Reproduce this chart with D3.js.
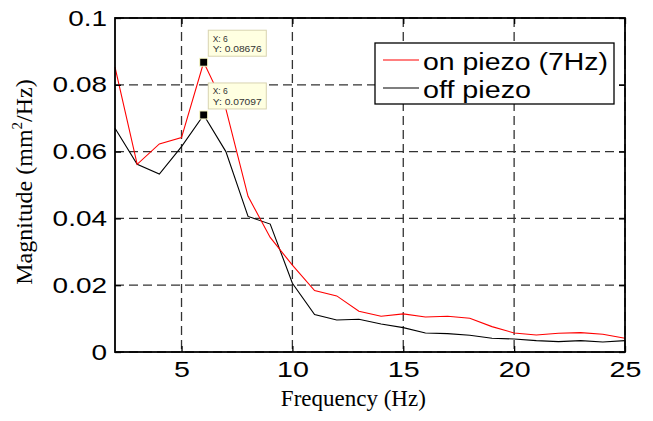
<!DOCTYPE html>
<html>
<head>
<meta charset="utf-8">
<script src="https://cdn.jsdelivr.net/npm/d3@7"></script>
<style>
  html, body { margin: 0; padding: 0; background: #fff; }
  svg { display: block; }
</style>
</head>
<body>
<svg id="chart" width="653" height="421"></svg>
<script>
// ---- data ----
const freqs = d3.range(2, 26); // 2..25 Hz
const onPiezo = [0.0853, 0.0562, 0.0623, 0.0642, 0.08676, 0.0728, 0.0466, 0.0343, 0.0260, 0.0184,
                 0.0168, 0.0122, 0.0107, 0.0114, 0.0105, 0.0107, 0.0101, 0.0076, 0.0057, 0.0051,
                 0.0056, 0.0058, 0.0053, 0.0041];
const offPiezo = [0.0670, 0.0562, 0.0533, 0.0615, 0.07097, 0.0600, 0.0406, 0.0383, 0.0206, 0.0112,
                  0.0096, 0.0098, 0.0084, 0.0073, 0.0057, 0.0055, 0.0050, 0.0041, 0.0039, 0.0034,
                  0.0031, 0.0034, 0.0030, 0.0034];
const xTicks = [5, 10, 15, 20, 25];
const yTicks = [0, 0.02, 0.04, 0.06, 0.08, 0.1];
const seriesNames = ["on piezo (7Hz)", "off piezo"];
const seriesColors = ["#ff0000", "#000000"];
const tipX = [6, 6];
const tipY = [0.08676, 0.07097];

// ---- layout ----
const svg = d3.select("#chart");
const L = 115, R = 625, T = 18, B = 352;
const x = d3.scaleLinear().domain([2, 25]).range([L, R]);
const y = d3.scaleLinear().domain([0, 0.1]).range([B, T]);

// grid
const grid = svg.append("g");
grid.selectAll("line.gx").data(xTicks).join("line")
  .attr("x1", d => x(d)).attr("x2", d => x(d)).attr("y1", T).attr("y2", B)
  .attr("stroke", "#333").attr("stroke-width", 1.3).attr("stroke-dasharray", "9,5");
grid.selectAll("line.gy").data(yTicks).join("line")
  .attr("y1", d => y(d)).attr("y2", d => y(d)).attr("x1", L).attr("x2", R)
  .attr("stroke", "#333").attr("stroke-width", 1.3).attr("stroke-dasharray", "9,5");

// series lines
const series = [onPiezo, offPiezo];
const line = d3.line().x((d, i) => x(freqs[i])).y(d => y(d));
// draw black first, red on top? In reference red over black near crossing; draw off first.
[1, 0].forEach(k => {
  svg.append("path").datum(series[k])
    .attr("d", line).attr("fill", "none")
    .attr("stroke", seriesColors[k]).attr("stroke-width", 1.1)
    .attr("stroke-linejoin", "miter");
});

// axes (inward ticks, box)
const fmt = d => d === 0 ? "0" : String(+d.toFixed(2));
const axB = svg.append("g").attr("transform", `translate(0,${B})`)
  .call(d3.axisBottom(x).tickValues(xTicks).tickSize(-6).tickPadding(10).tickFormat(d3.format("d")));
const axL = svg.append("g").attr("transform", `translate(${L},0)`)
  .call(d3.axisLeft(y).tickValues(yTicks).tickSize(-6).tickPadding(9).tickFormat(fmt));
const axT = svg.append("g").attr("transform", `translate(0,${T})`)
  .call(d3.axisTop(x).tickValues(xTicks).tickSize(-6).tickFormat(""));
const axR = svg.append("g").attr("transform", `translate(${R},0)`)
  .call(d3.axisRight(y).tickValues(yTicks).tickSize(-6).tickFormat(""));
[axB, axL, axT, axR].forEach(g => {
  g.select(".domain").remove();
  g.selectAll(".tick line").attr("stroke", "#000").attr("stroke-width", 1.3);
});
[axB, axL].forEach(g => {
  g.selectAll(".tick text")
    .attr("font-family", "'Liberation Sans', Arial, sans-serif")
    .attr("font-size", 22).attr("fill", "#000");
});
axB.selectAll(".tick text").attr("dy", "0.71em").attr("y", 9)
  .each(function () {
    const w = this.getComputedTextLength();
    d3.select(this).attr("textLength", w * 1.3).attr("lengthAdjust", "spacingAndGlyphs");
  });
axL.selectAll(".tick text").attr("x", -8)
  .each(function () {
    const w = this.getComputedTextLength();
    d3.select(this).attr("textLength", w * 1.27).attr("lengthAdjust", "spacingAndGlyphs");
  });

// box
svg.append("rect").attr("x", L).attr("y", T).attr("width", R - L).attr("height", B - T)
  .attr("fill", "none").attr("stroke", "#000").attr("stroke-width", 1.8);

// axis labels
svg.append("text")
  .attr("x", (281.7 + 425) / 2).attr("y", 406)
  .attr("text-anchor", "middle")
  .attr("font-family", "'Liberation Serif', 'Times New Roman', serif")
  .attr("font-size", 23).attr("fill", "#000")
  .text("Frequency (Hz)");

const yl = svg.append("text")
  .attr("transform", `translate(32,182) rotate(-90)`)
  .attr("text-anchor", "middle")
  .attr("font-family", "'Liberation Serif', 'Times New Roman', serif")
  .attr("font-size", 24).attr("fill", "#000");
yl.append("tspan").text("Magnitude (mm");
yl.append("tspan").attr("font-size", 15).attr("dy", -10).text("2");
yl.append("tspan").attr("dy", 10).text("/Hz)");

// legend
const lg = svg.append("g");
lg.append("rect").attr("x", 375).attr("y", 43).attr("width", 239).attr("height", 61)
  .attr("fill", "#fff").attr("stroke", "#000").attr("stroke-width", 1.3);
const legY = [60, 88];
const legW = [185, 108];
seriesNames.forEach((n, i) => {
  lg.append("line").attr("x1", 383).attr("x2", 419).attr("y1", legY[i]).attr("y2", legY[i])
    .attr("stroke", seriesColors[i]).attr("stroke-width", 1.1);
  lg.append("text").attr("x", 423).attr("y", legY[i] + 9.5)
    .attr("font-family", "'Liberation Sans', Arial, sans-serif")
    .attr("font-size", 23).attr("fill", "#000")
    .attr("textLength", legW[i]).attr("lengthAdjust", "spacingAndGlyphs")
    .text(n);
});

// data tips
const tipFmt = d3.format(".5f");
tipX.forEach((tx, i) => {
  const px = x(tx), py = y(tipY[i]);
  const g = svg.append("g");
  g.append("rect").attr("x", px + 4.6).attr("y", py - 32).attr("width", 58).attr("height", 26)
    .attr("fill", "#ffffe1").attr("stroke", "#d8d4b0").attr("stroke-width", 1);
  g.append("text").attr("x", px + 9).attr("y", py - 20.5)
    .attr("font-family", "'Liberation Sans', Arial, sans-serif").attr("font-size", 8.5)
    .attr("fill", "#333").text(`X: ${tx}`);
  g.append("text").attr("x", px + 9).attr("y", py - 10)
    .attr("font-family", "'Liberation Sans', Arial, sans-serif").attr("font-size", 8.5)
    .attr("fill", "#333").attr("textLength", 49).attr("lengthAdjust", "spacingAndGlyphs")
    .text(`Y: ${tipFmt(tipY[i])}`);
  g.append("rect").attr("x", px - 4).attr("y", py - 4).attr("width", 8).attr("height", 8)
    .attr("fill", "#000").attr("stroke", "#ffffcc").attr("stroke-width", 1);
});
</script>
</body>
</html>
